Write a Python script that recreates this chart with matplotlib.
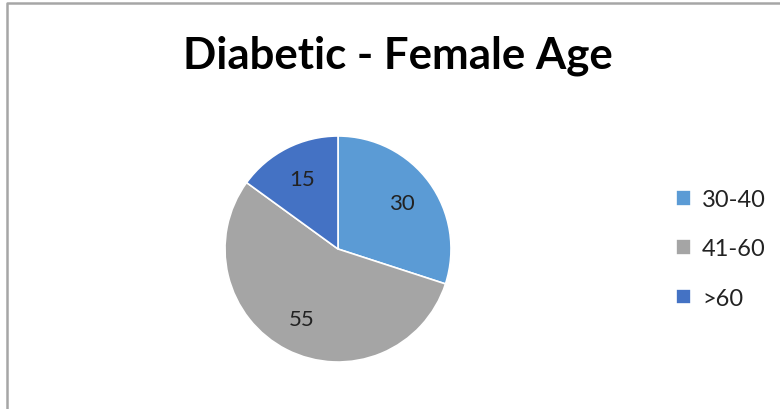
import matplotlib.pyplot as plt
from matplotlib.lines import Line2D

labels = ["30-40", "41-60", ">60"]
values = [30, 55, 15]
colors = ["#5B9BD5", "#A5A5A5", "#4472C4"]

W, H = 780, 410
fig = plt.figure(figsize=(W / 100, H / 100), dpi=100)
plt.rcParams['font.family'] = ['Lato', 'DejaVu Sans']

# chart border (only top and left visible in the crop)
fig.add_artist(Line2D([7 / W, 7 / W, 1], [0, 1 - 4 / H, 1 - 4 / H],
                      transform=fig.transFigure, color="#a6a6a6", lw=1.8))

cx, cy, r = 338, 250, 113
ax = fig.add_axes([(cx - r) / W, (H - cy - r) / H, 2 * r / W, 2 * r / H])
wedges, texts, autotexts = ax.pie(values, colors=colors, startangle=90, counterclock=False,
                                  autopct=lambda p: f"{p:.0f}", pctdistance=0.7,
                                  wedgeprops=dict(edgecolor="white", linewidth=1.2),
                                  textprops=dict(fontsize=16, color="#222222"))
ax.set_xlim(-1, 1)
ax.set_ylim(-1, 1)
ax.set_aspect("equal")

fig.text(398 / W, 1 - 56 / H, "Diabetic - Female Age", ha="center", va="center",
         fontsize=31.5, fontweight="bold", color="black")

fig.legend(wedges, labels, loc="center left", bbox_to_anchor=(676 / W, 1 - 250 / H),
           frameon=False, fontsize=17, handlelength=0.65, handleheight=0.65,
           handletextpad=0.45, labelspacing=1.2, labelcolor="#222222",
           borderpad=0, borderaxespad=0)

fig.savefig("out.png", dpi=100)
